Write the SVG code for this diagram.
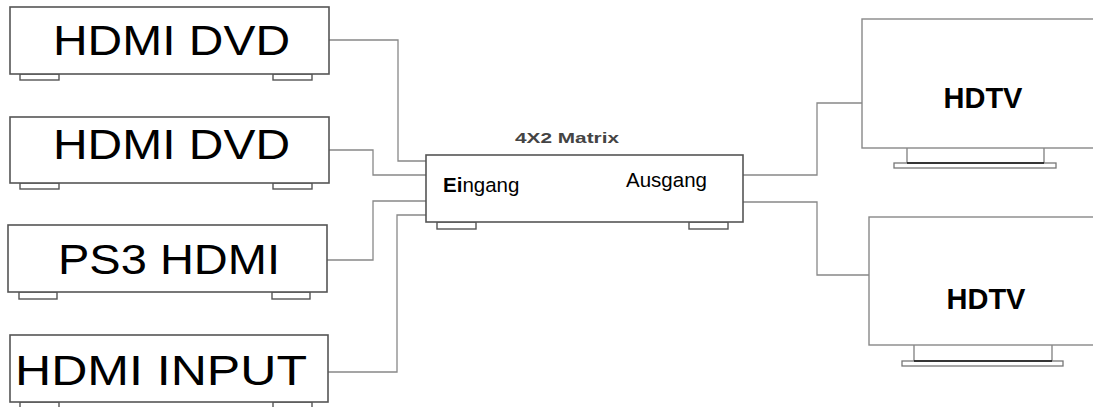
<svg xmlns="http://www.w3.org/2000/svg" width="1093" height="407" viewBox="0 0 1093 407">
<style>
.box{fill:#fff;stroke:#555;stroke-width:1.6}
.foot{fill:#fff;stroke:#555;stroke-width:1.4}
.tv{fill:#fff;stroke:#888;stroke-width:1.4}
.stand{fill:none;stroke:#888;stroke-width:1.4}
.base{fill:#fff;stroke:#777;stroke-width:1.3}
.wire{fill:none;stroke:#888;stroke-width:1.3}
.big{font-family:"Liberation Sans",Arial,sans-serif;font-size:43px;fill:#000}
.tvt{font-family:"Liberation Sans",Arial,sans-serif;font-size:29px;font-weight:bold;fill:#000}
.lbl{font-family:"Liberation Sans",Arial,sans-serif;font-size:20.5px;fill:#000}
</style>
<rect width="1093" height="407" fill="#fff"/>
<g id="connectors">
<polyline class="wire" points="329,40 398,40 398,161 427,161"/>
<polyline class="wire" points="329,150 373,150 373,175 427,175"/>
<polyline class="wire" points="327,260 373,260 373,201 427,201"/>
<polyline class="wire" points="328,372 397,372 397,215 427,215"/>
<polyline class="wire" points="743,175 817,175 817,103 862,103"/>
<polyline class="wire" points="743,202 817,202 817,275 869,275"/>
</g>
<g id="src1">
<rect class="foot" x="20" y="74" width="39" height="6"/>
<rect class="foot" x="273" y="74" width="39" height="6"/>
<rect class="box" x="10" y="7" width="319" height="67"/>
<text class="big" x="53" y="55" textLength="237" lengthAdjust="spacingAndGlyphs">HDMI DVD</text>
</g>
<g id="src2">
<rect class="foot" x="20" y="183" width="39" height="6"/>
<rect class="foot" x="273" y="183" width="39" height="6"/>
<rect class="box" x="10" y="117" width="319" height="66"/>
<text class="big" x="53" y="159" textLength="237" lengthAdjust="spacingAndGlyphs">HDMI DVD</text>
</g>
<g id="src3">
<rect class="foot" x="19" y="292" width="38" height="7"/>
<rect class="foot" x="272" y="292" width="38" height="7"/>
<rect class="box" x="8" y="225" width="319" height="67"/>
<text class="big" x="58" y="274" textLength="222" lengthAdjust="spacingAndGlyphs">PS3 HDMI</text>
</g>
<g id="src4">
<rect class="foot" x="20" y="402" width="39" height="7"/>
<rect class="foot" x="273" y="402" width="39" height="7"/>
<rect class="box" x="10" y="335" width="318" height="67"/>
<text class="big" x="15" y="385" textLength="292" lengthAdjust="spacingAndGlyphs">HDMI INPUT</text>
</g>
<g id="matrix">
<rect class="foot" x="437" y="222" width="39" height="7"/>
<rect class="foot" x="689" y="222" width="39" height="7"/>
<rect class="box" x="426" y="155" width="317" height="67"/>
<text x="515" y="143" font-family="'Liberation Sans',Arial,sans-serif" font-size="15" font-weight="bold" fill="#444" textLength="104" lengthAdjust="spacingAndGlyphs">4X2 Matrix</text>
<text class="lbl" x="443" y="192"><tspan font-weight="bold">Ei</tspan>ngang</text>
<text class="lbl" x="626" y="187">Ausgang</text>
</g>
<g id="tv1">
<rect class="tv" x="862" y="19" width="240" height="129"/>
<polyline class="stand" points="907,148 907,163"/>
<polyline class="stand" points="1044,148 1044,163"/>
<rect class="base" x="894" y="163" width="162" height="5"/>
<line x1="907" y1="163" x2="1044" y2="163" stroke="#111" stroke-width="1.6"/>
<text class="tvt" x="983" y="108" text-anchor="middle">HDTV</text>
</g>
<g id="tv2">
<rect class="tv" x="869" y="217" width="240" height="128"/>
<polyline class="stand" points="914,345 914,361"/>
<polyline class="stand" points="1052,345 1052,361"/>
<rect class="base" x="902" y="361" width="161" height="5"/>
<line x1="914" y1="361" x2="1052" y2="361" stroke="#111" stroke-width="1.6"/>
<text class="tvt" x="986" y="309" text-anchor="middle">HDTV</text>
</g>
</svg>
